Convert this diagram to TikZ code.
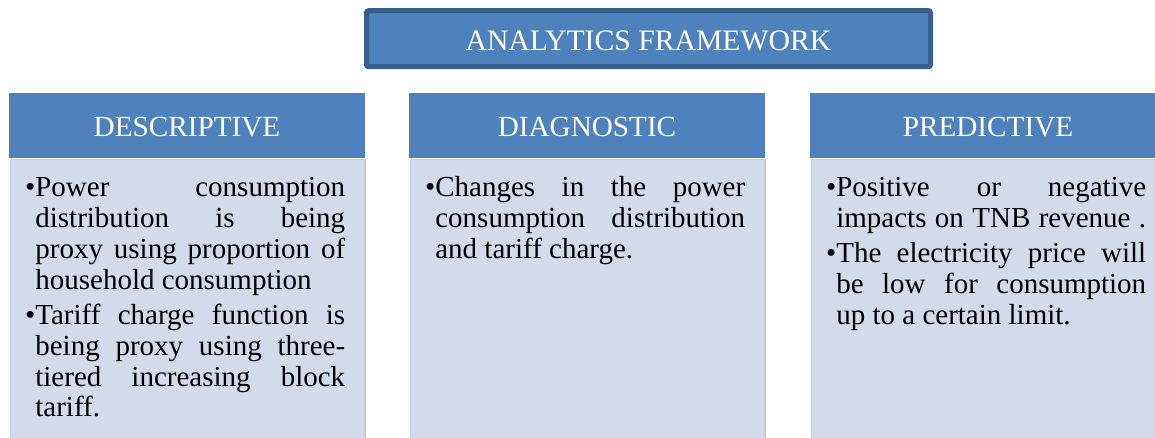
\documentclass[tikz,border=0pt]{standalone}
\usepackage{fontspec}
\setmainfont{Liberation Serif}
\definecolor{hdr}{HTML}{4F81BD}
\definecolor{bodyc}{HTML}{D3DAEA}
\definecolor{bodyedge}{HTML}{C3CDE2}
\definecolor{titleedge}{HTML}{3A5F8D}
\newcommand\jl[1]{\hbox to 320pt{#1}}
\newcommand\ind{\hphantom{•}}
\tikzset{
  titlebox/.style={draw=titleedge, line width=5pt, fill=hdr, rounded corners=2pt, inner sep=0pt},
  hdrbox/.style={fill=hdr, draw=none, inner sep=0pt, anchor=north west, minimum width=356pt, minimum height=65pt},
  bodybox/.style={fill=bodyc, draw=bodyedge, line width=1.5pt, inner sep=0pt, anchor=north west, minimum width=354.5pt, minimum height=300pt},
  hdrtext/.style={text=white, font=\fontsize{29.2}{30}\selectfont, anchor=base, inner sep=0pt},
  bodytext/.style={text=black, font=\fontsize{29}{30.8}\selectfont, anchor=base west, inner sep=0pt},
}
\begin{document}
\begin{tikzpicture}[x=1pt,y=-1pt]
\useasboundingbox (0,0) rectangle (1155,437);
\clip (0,0) rectangle (1155,437);
\fill[white] (0,0) rectangle (1155,437);
% title
\node[titlebox, minimum width=564pt, minimum height=56pt] (title) at (648.5,38.7) {};
\node[hdrtext, font=\fontsize{29.7}{30}\selectfont] (titletext) at (648.5,50.5) {ANALYTICS FRAMEWORK};
% column 1
\node[hdrbox] (h1) at (9,93) {};
\node[bodybox] (b1) at (9.75,158.75) {};
\node[hdrtext] (h1t) at (187,136.5) {DESCRIPTIVE};
\node[bodytext] (t1) at (25,196.7) {\vtop{%
  \jl{•Power consumption}%
  \jl{\ind distribution is being}%
  \jl{\ind proxy using proportion of}%
  \hbox{\ind household consumption}%
  \vskip4.5pt
  \jl{•Tariff charge function is}%
  \jl{\ind being proxy using three-}%
  \jl{\ind tiered increasing block}%
  \hbox{\ind tariff.}}};
% column 2
\node[hdrbox] (h2) at (409,93) {};
\node[bodybox] (b2) at (409.75,158.75) {};
\node[hdrtext] (h2t) at (587,136.5) {DIAGNOSTIC};
\node[bodytext] (t2) at (425,196.7) {\vtop{%
  \jl{•Changes in the power}%
  \jl{\ind consumption distribution}%
  \hbox{\ind and tariff charge.}}};
% column 3
\node[hdrbox] (h3) at (810,93) {};
\node[bodybox] (b3) at (810.75,158.75) {};
\node[hdrtext] (h3t) at (988,136.5) {PREDICTIVE};
\node[bodytext] (t3) at (826,196.7) {\vtop{%
  \jl{•Positive or negative}%
  \jl{\ind impacts on TNB revenue .}%
  \vskip4.5pt
  \jl{•The electricity price will}%
  \jl{\ind be low for consumption}%
  \hbox{\ind up to a certain limit.}}};
\end{tikzpicture}
\end{document}
